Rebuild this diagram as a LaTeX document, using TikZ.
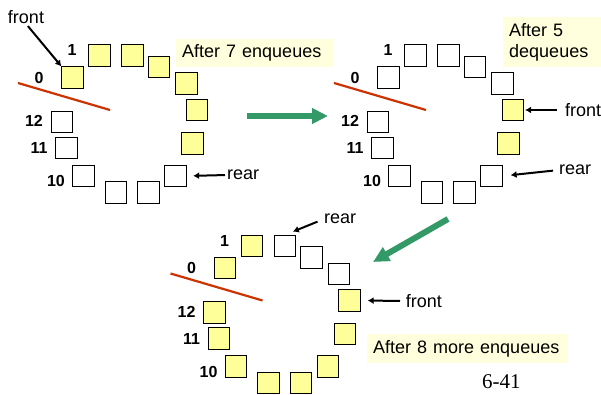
\documentclass[tikz,border=0pt]{standalone}
\usepackage{fontspec}
\setmainfont{Liberation Sans}
\newfontfamily\pagefont{Liberation Serif}
\usepackage{tikz}
\usetikzlibrary{arrows.meta}
\definecolor{cellfill}{HTML}{FFFF99}
\definecolor{notefill}{HTML}{FFFFDD}
\definecolor{cut}{HTML}{CC3300}
\definecolor{flow}{HTML}{339966}
\tikzset{
  cell/.style={draw=black, line width=0.8pt, minimum size=21.5pt, inner sep=0pt},
  full/.style={fill=cellfill},
  empty/.style={fill=white},
  num/.style={font=\fontsize{16}{18}\selectfont\bfseries, inner sep=0pt},
  lab/.style={font=\fontsize{18}{21}\selectfont, inner sep=0pt},
  note/.style={fill=notefill, font=\fontsize{18}{21}\selectfont, align=left,
    inner xsep=6pt, inner ysep=2pt, anchor=north west},
  ptr/.style={draw=black, line width=2pt, -{Latex[length=6pt,width=7pt]}},
  cutline/.style={draw=cut, line width=2.2pt},
  move/.style={draw=flow, line width=6pt, -{Triangle[length=16pt,width=15pt]}}
}

\begin{document}
\begin{tikzpicture}[x=1pt, y=-1pt]
  \useasboundingbox (0,0) rectangle (601,395);
  \def\cells{0/72.5/77.5, 1/99.5/55.5, 2/132.5/55.5, 3/159/67, 4/186.5/83.5,
    5/197/110, 6/192.5/143.5, 7/175.5/176, 8/148.5/192.5, 9/116/192.5,
    10/83.5/176, 11/66.5/148, 12/62/122}
  \def\idx{0/39/77.5, 1/72/50, 10/56/181, 11/39/148, 12/34/121}

  % after 7 enqueues
  \foreach \i/\x/\y in \cells {
    \ifnum\i<7 \def\st{full}\else\def\st{empty}\fi
    \node[cell, style=\st] (a\i) at (\x,\y) {};
  }
  \foreach \t/\x/\y in \idx
    \node[num] (al\t) at (\x,\y) {\t};
  \draw[cutline] (18,83) -- (110,110);
  \node[lab] (f1) at (26,17) {front};
  \draw[ptr, shorten <=3pt] (f1.south) -- (a0.north west);
  \node[lab, anchor=west] (r1) at (227,175) {rear};
  \draw[ptr, shorten <=2pt, shorten >=6.5pt] (r1.west) -- (a7.east);
  \node[note, text width=145pt, minimum height=28pt] (n1) at (176,39) {After 7 enqueues};

  % after 5 dequeues
  \begin{scope}[shift={(316,0)}]
    \foreach \i/\x/\y in \cells {
      \def\st{empty}
      \ifnum\i=5 \def\st{full}\fi
      \ifnum\i=6 \def\st{full}\fi
      \node[cell, style=\st] (b\i) at (\x,\y) {};
    }
    \foreach \t/\x/\y in \idx
      \node[num] (bl\t) at (\x,\y) {\t};
    \draw[cutline] (18,83) -- (110,110);
  \end{scope}
  \node[lab, anchor=west] (f2) at (565,110) {front};
  \draw[ptr, shorten <=8pt, shorten >=1pt] (f2.west) -- (b5.east);
  \node[lab, anchor=west] (r2) at (559,170) {rear};
  \draw[ptr, shorten <=6pt, shorten >=8pt] (r2.west) -- (b7.east);
  \node[note, text width=100pt, minimum height=50pt] (n2) at (503,17) {After 5\\dequeues};

  % after 8 more enqueues
  \begin{scope}[shift={(152.5,190.5)}]
    \foreach \i/\x/\y in \cells {
      \def\st{full}
      \ifnum\i>1 \ifnum\i<5 \def\st{empty}\fi\fi
      \node[cell, style=\st] (c\i) at (\x,\y) {};
    }
    \foreach \t/\x/\y in \idx
      \node[num] (cl\t) at (\x,\y) {\t};
    \draw[cutline] (18,83) -- (110,110);
  \end{scope}
  \node[lab, anchor=west] (r3) at (324,219) {rear};
  \draw[ptr, shorten <=7pt, shorten >=8.5pt] (r3.west) -- (c2.north);
  \node[lab, anchor=west] (f3) at (405.7,301) {front};
  \draw[ptr, shorten <=5.7pt, shorten >=7pt] (f3.west) -- (c5.east);
  \node[note, text width=189pt, minimum height=29pt] (n3) at (367,334) {After 8 more enqueues};

  % steps
  \coordinate (g1s) at (247,116);
  \coordinate (g1e) at (328,116);
  \draw[move] (g1s) -- (g1e);
  \coordinate (g2s) at (448,219);
  \coordinate (g2e) at (373,262);
  \draw[move] (g2s) -- (g2e);

  \node[font=\pagefont\fontsize{21}{24}\selectfont, anchor=base west, inner sep=0pt] (pg) at (482,388) {6-41};
\end{tikzpicture}
\end{document}
